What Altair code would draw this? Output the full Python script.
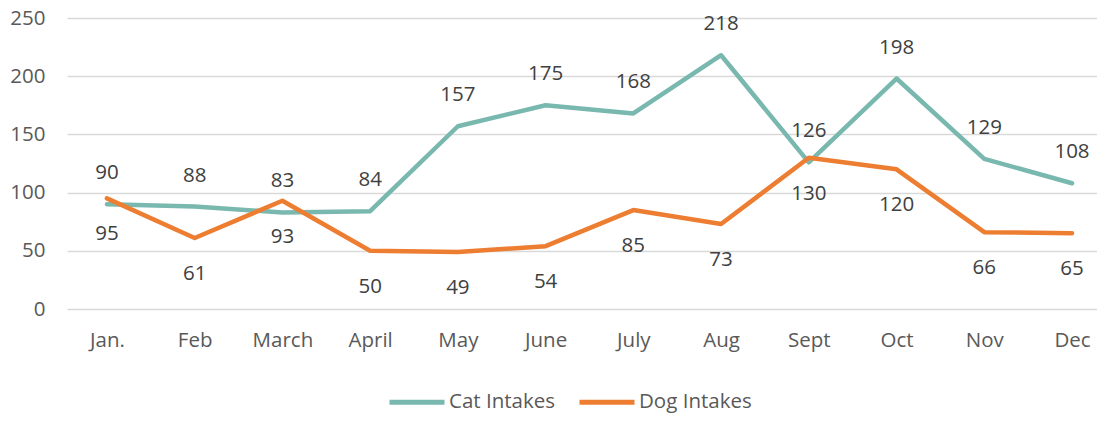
import altair as alt
import pandas as pd

months = ["Jan.", "Feb", "March", "April", "May", "June", "July", "Aug", "Sept", "Oct", "Nov", "Dec"]
cat_intakes = [90, 88, 83, 84, 157, 175, 168, 218, 126, 198, 129, 108]
dog_intakes = [95, 61, 93, 50, 49, 54, 85, 73, 130, 120, 66, 65]
series_names = ["Cat Intakes", "Dog Intakes"]
series_colors = ["#79B8AF", "#ED7D31"]
y_ticks = [0, 50, 100, 150, 200, 250]

rows = []
for i, (m, c, d) in enumerate(zip(months, cat_intakes, dog_intakes)):
    rows.append({"month": m, "idx": i, "series": series_names[0], "value": c})
    rows.append({"month": m, "idx": i, "series": series_names[1], "value": d})
df = pd.DataFrame(rows)

FONT = "Open Sans"
LABEL_GRAY = "#595959"
FS = 20.5

x = alt.X("month:N", sort=months,
          scale=alt.Scale(type="point", padding=0.37, align=0.615),
          axis=alt.Axis(title=None, domain=False, ticks=False, grid=False,
                        labelFontSize=FS, labelColor=LABEL_GRAY, labelPadding=21,
                        labelAngle=0, labelFont=FONT))
y = alt.Y("value:Q", scale=alt.Scale(domain=[0, 250], nice=False),
          axis=alt.Axis(values=y_ticks, title=None, domain=False, ticks=False,
                        gridColor="#D9D9D9", gridWidth=1.5,
                        labelFontSize=FS, labelColor=LABEL_GRAY, labelPadding=22,
                        labelFont=FONT))

color = alt.Color("series:N",
                  scale=alt.Scale(domain=series_names, range=series_colors),
                  legend=alt.Legend(title=None, orient="none", legendX=320, legendY=354,
                                    direction="horizontal", symbolType="stroke",
                                    symbolSize=3025, symbolStrokeWidth=5,
                                    labelFontSize=FS, labelFont=FONT, labelColor=LABEL_GRAY,
                                    columnPadding=14, labelOffset=2))

base = alt.Chart(df)

lines = base.mark_line(strokeWidth=4.5, strokeJoin="round", strokeCap="round").encode(
    x=x, y=y, color=color, order=alt.Order("idx:Q")
)

cat_text = base.transform_filter(alt.datum.series == series_names[0]).mark_text(
    dy=-31, fontSize=FS, font=FONT, color="#404040"
).encode(x=x, y=y, text="value:Q")

dog_text = base.transform_filter(alt.datum.series == series_names[1]).mark_text(
    dy=36, fontSize=FS, font=FONT, color="#404040"
).encode(x=x, y=y, text="value:Q")

chart = alt.layer(lines, cat_text, dog_text).properties(
    width=1030, height=291,
    autosize=alt.AutoSizeParams(type="none"),
    padding={"left": 59, "top": 10, "right": 0, "bottom": 106},
).configure_view(stroke=None)

chart.save("out.html", embed_options={"renderer": "svg", "actions": False})
